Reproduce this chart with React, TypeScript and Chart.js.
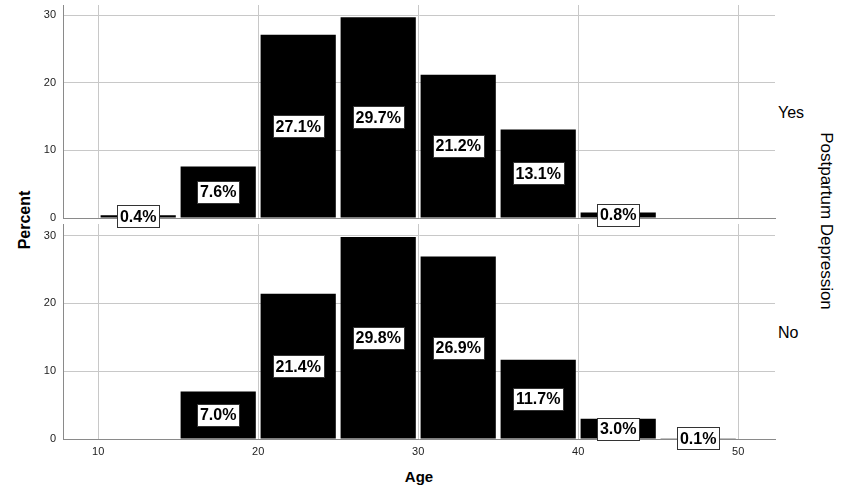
import React, { useEffect, useRef } from "react";
import { Chart, registerables } from "chart.js";

Chart.register(...registerables);

// ---- data ----
const binStarts = [10, 15, 20, 25, 30, 35, 40, 45];
const binWidth = 5;
const yesPercent: (number | null)[] = [0.4, 7.6, 27.1, 29.7, 21.2, 13.1, 0.8, null];
const noPercent: (number | null)[] = [null, 7.0, 21.4, 29.8, 26.9, 11.7, 3.0, 0.1];
const xTicks = [10, 20, 30, 40, 50];
const yTicks = [0, 10, 20, 30];
const groupLabels = ["Yes", "No"];

const FONT = '"Liberation Sans", Arial, sans-serif';
const GRID = "#c8c8c8";
const AXIS = "#8a8a8a";

const labelPlugin = {
  id: "barLabels",
  afterDatasetsDraw(chart: any) {
    const ctx = chart.ctx;
    const meta = chart.getDatasetMeta(0);
    const ds = chart.data.datasets[0];
    ctx.save();
    ctx.font = `bold 16px ${FONT}`;
    ctx.textAlign = "center";
    ctx.textBaseline = "middle";
    meta.data.forEach((el: any, i: number) => {
      const v = ds.data[i].y;
      if (v == null) return;
      const { x, y, base } = el.getProps(["x", "y", "base"], true);
      const cy = (y + base) / 2;
      const text = v.toFixed(1) + "%";
      const w = Math.round(ctx.measureText(text).width + 6);
      const h = 22;
      const left = Math.round(x - w / 2) + 0.5;
      const top = Math.round(cy - h / 2) + 0.5;
      ctx.fillStyle = "#fff";
      ctx.fillRect(left, top, w, h);
      ctx.strokeStyle = "#333";
      ctx.lineWidth = 1;
      ctx.strokeRect(left, top, w, h);
      ctx.fillStyle = "#000";
      ctx.fillText(text, x, cy + 1);
    });
    ctx.restore();
  },
};

function makeConfig(values: (number | null)[], bottom: boolean, yMax: number, padTop: number, padBottom: number): any {
  return {
    type: "bar",
    data: {
      datasets: [
        {
          data: binStarts.map((s, i) => ({ x: s + binWidth / 2, y: values[i] })),
          backgroundColor: "#000",
          borderWidth: 0,
          barPercentage: 0.94,
          categoryPercentage: 1,
        },
      ],
    },
    plugins: [labelPlugin],
    options: {
      animation: false,
      responsive: true,
      maintainAspectRatio: false,
      layout: { padding: { left: 0, right: 76, top: padTop, bottom: padBottom } },
      plugins: { legend: { display: false }, tooltip: { enabled: false } },
      scales: {
        x: {
          type: "linear",
          min: 7.8,
          max: 52.3,
          offset: false,
          grid: { offset: false, color: GRID, lineWidth: 1, drawTicks: false },
          border: { color: AXIS, width: 1 },
          afterBuildTicks: (s: any) => {
            s.ticks = xTicks.map((v) => ({ value: v }));
          },
          ticks: {
            display: bottom,
            padding: 6,
            color: "#222",
            font: { family: FONT, size: 11 },
            maxRotation: 0,
          },
          afterFit: (s: any) => {
            s.height = bottom ? 62 : 0;
            s.paddingLeft = 0;
            s.paddingRight = 0;
          },
        },
        y: {
          min: 0,
          max: yMax,
          grid: { color: GRID, lineWidth: 1, drawTicks: false },
          border: { color: AXIS, width: 1 },
          afterBuildTicks: (s: any) => {
            s.ticks = yTicks.map((v) => ({ value: v }));
          },
          ticks: {
            padding: 7,
            color: "#222",
            font: { family: FONT, size: 11 },
          },
          afterFit: (s: any) => {
            s.width = 63;
            s.paddingTop = 0;
            s.paddingBottom = 0;
          },
        },
      },
    },
  };
}

function Panel({ values, bottom, yMax, padTop, padBottom, top, height, z }: any) {
  const ref = useRef<HTMLCanvasElement | null>(null);
  useEffect(() => {
    if (!ref.current) return;
    const chart = new Chart(ref.current, makeConfig(values, bottom, yMax, padTop, padBottom));
    return () => chart.destroy();
  }, []);
  return (
    <div style={{ position: "absolute", left: 0, top, width: 851, height, zIndex: z }}>
      <canvas ref={ref} />
    </div>
  );
}

const textBase: React.CSSProperties = {
  position: "absolute",
  fontFamily: FONT,
  color: "#000",
  whiteSpace: "nowrap",
  lineHeight: "18px",
};

export default function App() {
  return (
    <div style={{ position: "absolute", left: 0, top: 0, width: 851, height: 501, background: "#fff", overflow: "hidden" }}>
      <Panel values={noPercent} bottom={true} yMax={31.7} padTop={2} padBottom={0} top={222} height={279} z={1} />
      <Panel values={yesPercent} bottom={false} yMax={31.5} padTop={5} padBottom={16} top={0} height={234} z={2} />
      <div style={{ ...textBase, left: 778, top: 104, fontSize: 16 }}>{groupLabels[0]}</div>
      <div style={{ ...textBase, left: 778, top: 324, fontSize: 16 }}>{groupLabels[1]}</div>
      <div
        style={{
          ...textBase,
          left: 826,
          top: 221,
          fontSize: 17,
          transform: "translate(-50%, -50%) rotate(90deg)",
        }}
      >
        Postpartum Depression
      </div>
      <div
        style={{
          ...textBase,
          left: 25,
          top: 220,
          fontSize: 16,
          fontWeight: "bold",
          transform: "translate(-50%, -50%) rotate(-90deg)",
        }}
      >
        Percent
      </div>
      <div
        style={{
          ...textBase,
          left: 419,
          top: 477,
          fontSize: 15,
          fontWeight: "bold",
          transform: "translate(-50%, -50%)",
        }}
      >
        Age
      </div>
    </div>
  );
}
